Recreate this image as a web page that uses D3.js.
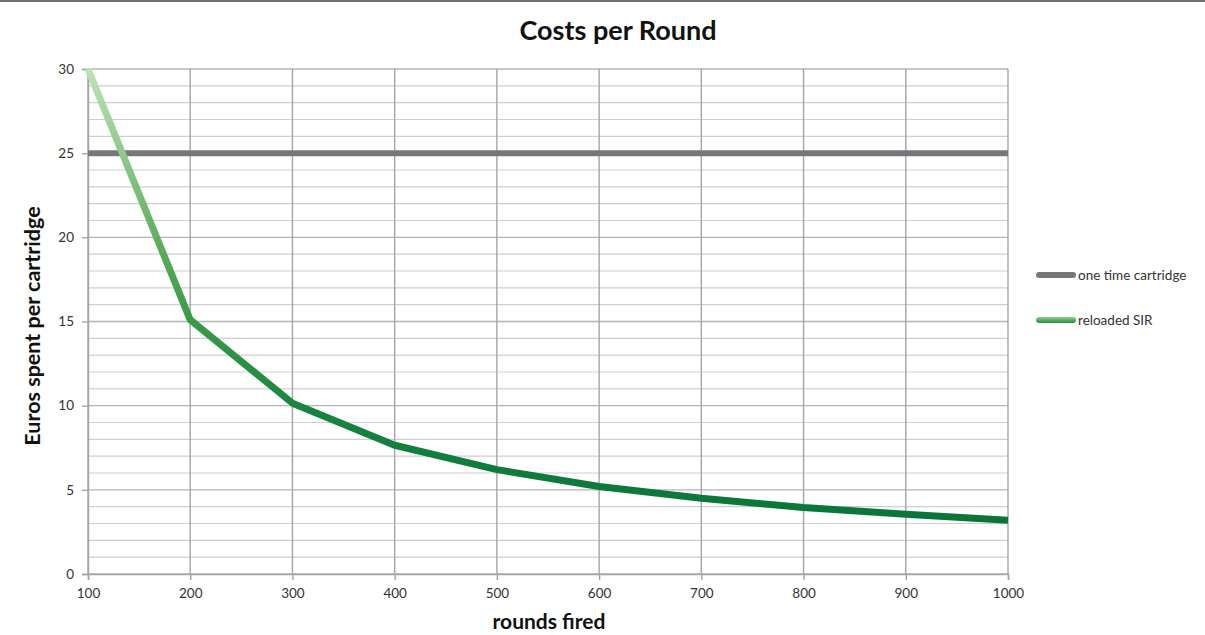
<!DOCTYPE html>
<html><head><meta charset="utf-8">
<script src="https://cdn.jsdelivr.net/npm/d3@7"></script>
<style>body{margin:0;background:#fff}svg{display:block}</style>
</head><body>
<svg id="c" width="1205" height="635"></svg>
<script>
const rounds = [100,200,300,400,500,600,700,800,900,1000];
const reloadedSIR = [30,15.1,10.15,7.65,6.2,5.2,4.5,3.95,3.55,3.2];
const oneTime = [25,25,25,25,25,25,25,25,25,25];
const yTicks = [0,5,10,15,20,25,30];
const seriesNames = ["one time cartridge","reloaded SIR"];

const svg = d3.select("#c");
const font = "Lato, 'Open Sans', sans-serif";
const m = {l:88, r:1008, t:69, b:574};
const x = d3.scaleLinear().domain([100,1000]).range([m.l,m.r]);
const y = d3.scaleLinear().domain([0,30]).range([m.b,m.t]);

svg.append("rect").attr("x",0).attr("y",0).attr("width",1205).attr("height",2).attr("fill","#6e6e70");

const defs = svg.append("defs");
const g1 = defs.append("linearGradient").attr("id","gr").attr("gradientUnits","userSpaceOnUse")
  .attr("x1",0).attr("x2",0).attr("y1",y(30)).attr("y2",y(3));
g1.append("stop").attr("offset","0").attr("stop-color","#bde3b6");
g1.append("stop").attr("offset","0.45").attr("stop-color","#4ea54f");
g1.append("stop").attr("offset","0.75").attr("stop-color","#17853f");
g1.append("stop").attr("offset","1").attr("stop-color","#08743a");
const g2 = defs.append("linearGradient").attr("id","gl").attr("x1",0).attr("x2",0).attr("y1",0).attr("y2",1);
g2.append("stop").attr("offset","0").attr("stop-color","#8fd08a");
g2.append("stop").attr("offset","1").attr("stop-color","#1f8f3f");

// minor horizontal grid
const minor = d3.range(0,31,1).filter(v=>v%5!==0);
svg.append("g").selectAll("line").data(minor).join("line")
  .attr("x1",m.l).attr("x2",m.r).attr("y1",d=>y(d)).attr("y2",d=>y(d))
  .attr("stroke","#cfcfd2").attr("stroke-width",1.2);
// major horizontal
svg.append("g").selectAll("line").data(yTicks).join("line")
  .attr("x1",m.l).attr("x2",m.r).attr("y1",d=>y(d)).attr("y2",d=>y(d))
  .attr("stroke","#b4b4b8").attr("stroke-width",1.4);
// vertical grid
svg.append("g").selectAll("line").data(rounds).join("line")
  .attr("x1",d=>x(d)).attr("x2",d=>x(d)).attr("y1",m.t).attr("y2",m.b)
  .attr("stroke","#a4a4a8").attr("stroke-width",1.4);

// axes
const xa = svg.append("g").attr("transform",`translate(0,${m.b})`)
  .call(d3.axisBottom(x).tickValues(rounds).tickFormat(d3.format("d")).tickSize(6).tickPadding(8));
const ya = svg.append("g").attr("transform",`translate(${m.l},0)`)
  .call(d3.axisLeft(y).tickValues(yTicks).tickFormat(d3.format("d")).tickSize(6).tickPadding(8));
[xa,ya].forEach(a=>{
  a.select(".domain").attr("stroke","#a4a4a8").attr("stroke-width",1.4);
  a.selectAll(".tick line").attr("stroke","#a4a4a8").attr("stroke-width",1.4);
  a.selectAll("text").attr("font-family",font).attr("font-size",13.5).attr("fill","#333");
});

// series
const line = d3.line().x((d,i)=>x(rounds[i])).y(d=>y(d));
svg.append("path").datum(oneTime).attr("d",line).attr("fill","none")
  .attr("stroke","#76777b").attr("stroke-width",6);
svg.append("path").datum(reloadedSIR).attr("d",line).attr("fill","none")
  .attr("stroke","url(#gr)").attr("stroke-width",7).attr("stroke-linejoin","round");

// title & labels
svg.append("text").attr("x",618).attr("y",40).attr("text-anchor","middle")
  .attr("font-family",font).attr("font-weight","bold").attr("font-size",27).attr("fill","#111").text("Costs per Round");
svg.append("text").attr("x",549).attr("y",629).attr("text-anchor","middle")
  .attr("font-family",font).attr("font-weight","bold").attr("font-size",21).attr("fill","#111").text("rounds fired");
svg.append("text").attr("transform","translate(40,326) rotate(-90)").attr("text-anchor","middle")
  .attr("font-family",font).attr("font-weight","bold").attr("font-size",21.5).attr("fill","#111").text("Euros spent per cartridge");

// legend
const leg = svg.append("g");
const ly = [275,320];
seriesNames.forEach((n,i)=>{
  leg.append("rect").attr("x",1036).attr("y",ly[i]-3).attr("width",40).attr("height",6).attr("rx",3)
    .attr("fill", i===0?"#76777b":"url(#gl)");
  leg.append("text").attr("x",1078).attr("y",ly[i]+4.5).attr("font-family",font).attr("font-size",13.5)
    .attr("fill","#333").text(n);
});
</script>
</body></html>
